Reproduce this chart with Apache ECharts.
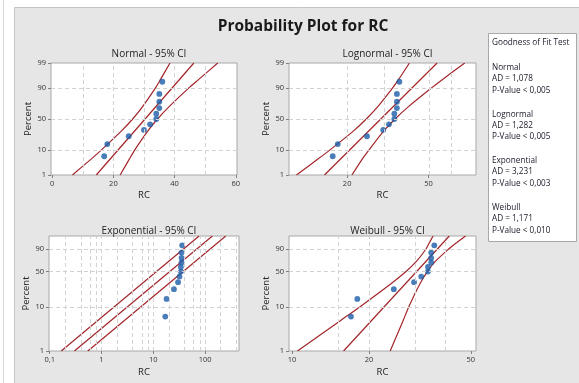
<!DOCTYPE html>
<html><head><meta charset="utf-8">
<script src="https://cdn.jsdelivr.net/npm/echarts@6/dist/echarts.min.js"></script>
<style>html,body{margin:0;padding:0;background:#fff}#c{width:579px;height:383px}</style>
</head><body><div id="c"></div><script>
// ---------- data ----------
const rcValues  = [17, 18, 25, 30, 32, 34, 34, 35, 35, 35, 36];
const rcPercent = [6.1, 14.9, 23.7, 32.5, 41.2, 50, 58.8, 67.5, 76.3, 85.1, 93.9];

const fitPct  = [1, 99];
const bandPct = [1, 5, 10, 30, 50, 70, 90, 95, 99];

const normalFit   = [14.4, 46.3];
const normalLower = [6.6, 12.9, 16.1, 22.4, 26.3, 29.6, 33.7, 35.4, 38.5];
const normalUpper = [22.2, 25.3, 27.0, 31.1, 34.4, 38.3, 44.6, 47.9, 54.1];

const lognFit   = [15.5, 55.0];
const lognLower = [11.3, 14.5, 16.5, 21.3, 24.8, 28.3, 33.3, 35.7, 40.3];
const lognUpper = [21.1, 23.8, 25.6, 30.0, 34.3, 40.0, 51.5, 58.5, 75.1];

const expFit   = [0.30, 138];
const expLower = [0.167, 76.4];
const expUpper = [0.545, 250];

const weibFit   = [15.9, 41.2];
const weibLower = [10.5, 15.5, 18.4, 24.3, 27.9, 30.7, 33.4, 34.2, 35.6];
const weibUpper = [24.2, 27.2, 28.6, 31.6, 33.8, 36.4, 41.0, 43.3, 47.7];

const normalXLabels = [0, 20, 40, 60];
const normalXGrid   = [10, 20, 30, 40, 50];
const lognXLabels   = [20, 50];
const lognXGrid     = [20, 30, 50, 65];
const expXLabels    = [0.1, 1, 10, 100];
const expXGrid      = [0.2, 0.4, 0.6, 0.8, 1, 2, 4, 6, 8, 10, 20, 40, 60, 80, 100, 200, 400];
const weibXLabels   = [10, 20, 50];
const weibXGrid     = [15, 20, 30, 40];

const normYLabels = [1, 10, 50, 90, 99];
const weibYLabels = [1, 10, 50, 90];
const yGridPct    = [10, 50, 90];

const gofDist = ['Normal', 'Lognormal', 'Exponential', 'Weibull'];
const gofAD   = ['1,078', '1,282', '3,231', '1,171'];
const gofP    = ['< 0,005', '< 0,005', '< 0,003', '< 0,010'];

// ---------- scale transforms ----------
function normInv(p) {
  const a = [-3.969683028665376e+01, 2.209460984245205e+02, -2.759285104469687e+02, 1.383577518672690e+02, -3.066479806614716e+01, 2.506628277459239e+00];
  const b = [-5.447609879822406e+01, 1.615858368580409e+02, -1.556989798598866e+02, 6.680131188771972e+01, -1.328068155288572e+01];
  const c = [-7.784894002430293e-03, -3.223964580411365e-01, -2.400758277161838e+00, -2.549732539343734e+00, 4.374664141464968e+00, 2.938163982698783e+00];
  const d = [7.784695709041462e-03, 3.224671290700398e-01, 2.445134137142996e+00, 3.754408661907416e+00];
  const pl = 0.02425, ph = 1 - pl;
  let q, r;
  if (p < pl) { q = Math.sqrt(-2 * Math.log(p)); return (((((c[0]*q+c[1])*q+c[2])*q+c[3])*q+c[4])*q+c[5]) / ((((d[0]*q+d[1])*q+d[2])*q+d[3])*q+1); }
  if (p <= ph) { q = p - 0.5; r = q*q; return (((((a[0]*r+a[1])*r+a[2])*r+a[3])*r+a[4])*r+a[5])*q / (((((b[0]*r+b[1])*r+b[2])*r+b[3])*r+b[4])*r+1); }
  q = Math.sqrt(-2 * Math.log(1 - p)); return -(((((c[0]*q+c[1])*q+c[2])*q+c[3])*q+c[4])*q+c[5]) / ((((d[0]*q+d[1])*q+d[2])*q+d[3])*q+1);
}
const tx = (kind, v) => kind === 'log' ? Math.log10(v) : v;
const ty = (kind, p) => kind === 'norm' ? normInv(p / 100) : Math.log(-Math.log(1 - p / 100));

const FONT = "'Open Sans', 'Noto Sans', sans-serif";
const LINE = '#a3262b';
const DOT = '#1c5ca8';
const GRIDC = '#d2d2d2';
const TXT = '#222';

const panels = [
  { name: 'Normal - 95% CI', box: {left: 51, top: 63, width: 186, height: 112}, xs: 'lin', ys: 'norm',
    xMin: -0.4, xMax: 60.4, xLabels: normalXLabels, xGrid: normalXGrid, yLabels: normYLabels,
    fit: normalFit, fitP: fitPct, lo: normalLower, hi: normalUpper, bandP: bandPct, titleTop: 43, gapX: 15, gapY: 15 },
  { name: 'Lognormal - 95% CI', box: {left: 289, top: 63, width: 187, height: 112}, xs: 'log', ys: 'norm',
    xMin: 10.4, xMax: 85.2, xLabels: lognXLabels, xGrid: lognXGrid, yLabels: normYLabels,
    fit: lognFit, fitP: fitPct, lo: lognLower, hi: lognUpper, bandP: bandPct, titleTop: 43, gapX: 15, gapY: 18 },
  { name: 'Exponential - 95% CI', box: {left: 49, top: 236, width: 190, height: 115}, xs: 'log', ys: 'weib',
    xMin: 0.097, xMax: 450, xLabels: expXLabels, xGrid: expXGrid, yLabels: weibYLabels,
    fit: expFit, fitP: fitPct, lo: expLower, hi: expUpper, bandP: fitPct, titleTop: 220, gapX: 16, gapY: 14 },
  { name: 'Weibull - 95% CI', box: {left: 289, top: 236, width: 187, height: 115}, xs: 'log', ys: 'weib',
    xMin: 9.73, xMax: 52.4, xLabels: weibXLabels, xGrid: weibXGrid, yLabels: weibYLabels,
    fit: weibFit, fitP: fitPct, lo: weibLower, hi: weibUpper, bandP: bandPct, titleTop: 220, gapX: 16, gapY: 18 }
];

function labelFor(list, f, v) {
  const i = list.findIndex(l => Math.abs(f(l) - v) < 1e-7);
  return i < 0 ? '' : String(list[i]).replace('.', ',');
}

const grids = [], xAxes = [], yAxes = [], series = [];
const titles = [{ text: 'Probability Plot for RC', left: 298, top: 13, textAlign: 'center',
  textStyle: { fontFamily: FONT, fontSize: 15.5, fontWeight: 'bold', color: '#1a1a1a', lineHeight: 18 } }];

panels.forEach((P, i) => {
  const X = v => tx(P.xs, v), Y = p => ty(P.ys, p);
  grids.push({ left: P.box.left, top: P.box.top, width: P.box.width, height: P.box.height, show: true,
    backgroundColor: '#ffffff', borderColor: '#a8a8a8', borderWidth: 1 });
  titles.push({ text: P.name, left: P.box.left + P.box.width / 2, top: P.titleTop, textAlign: 'center',
    textStyle: { fontFamily: FONT, fontSize: 10, fontWeight: 'normal', color: TXT, lineHeight: 12 } });
  const xl = P.xLabels.map(X), yl = P.yLabels.map(Y);
  xAxes.push({ gridIndex: i, type: 'value', min: X(P.xMin), max: X(P.xMax),
    name: 'RC', nameLocation: 'middle', nameGap: P.gapX,
    nameTextStyle: { fontFamily: FONT, fontSize: 9.5, color: TXT },
    axisLine: { show: false, onZero: false }, splitLine: { show: false },
    axisTick: { show: true, customValues: xl, length: 3, lineStyle: { color: '#808080' } },
    axisLabel: { customValues: xl, margin: 5, fontSize: 7.5, color: '#333', fontFamily: FONT,
      showMinLabel: true, showMaxLabel: true, formatter: v => labelFor(P.xLabels, X, v) } });
  yAxes.push({ gridIndex: i, type: 'value', min: Y(1), max: Y(99),
    name: 'Percent', nameLocation: 'middle', nameGap: P.gapY,
    nameTextStyle: { fontFamily: FONT, fontSize: 9.5, color: TXT },
    axisLine: { show: false, onZero: false }, splitLine: { show: false },
    axisTick: { show: true, customValues: yl, length: 3, lineStyle: { color: '#808080' } },
    axisLabel: { customValues: yl, margin: 5, fontSize: 7.5, color: '#333', fontFamily: FONT,
      showMinLabel: true, showMaxLabel: true, formatter: v => labelFor(P.yLabels, Y, v) } });
  // dashed reference grid
  series.push({ type: 'line', xAxisIndex: i, yAxisIndex: i, data: [], z: 1, silent: true,
    markLine: { silent: true, symbol: ['none', 'none'], label: { show: false }, animation: false,
      lineStyle: { type: [4, 3], color: GRIDC, width: 1 },
      emphasis: { disabled: true },
      data: P.xGrid.map(v => ({ xAxis: X(v) })).concat(yGridPct.map(p => ({ yAxis: Y(p) }))) } });
  const mk = (xsArr, ps) => xsArr.map((v, k) => [X(v), Y(ps[k])]);
  [[P.lo, P.bandP], [P.fit, P.fitP], [P.hi, P.bandP]].forEach(([arr, ps]) => {
    series.push({ type: 'line', xAxisIndex: i, yAxisIndex: i, data: mk(arr, ps), showSymbol: false, smooth: 0.25,
      silent: true, z: 3, lineStyle: { color: LINE, width: 1.2 } });
  });
  series.push({ type: 'scatter', xAxisIndex: i, yAxisIndex: i, data: mk(rcValues, rcPercent), symbolSize: 5.8,
    z: 4, silent: true, itemStyle: { color: DOT } });
});

// background frame and goodness-of-fit box
const graphics = [
  { type: 'rect', shape: { x: 0, y: 0, width: 14.5, height: 383 }, style: { fill: '#ffffff' }, silent: true },
  { type: 'rect', shape: { x: 0, y: 0, width: 579, height: 7.5 }, style: { fill: '#ffffff' }, silent: true },
  { type: 'line', shape: { x1: 3.5, y1: 0, x2: 3.5, y2: 383 }, style: { stroke: '#d6d6d6', lineWidth: 1 }, silent: true },
  { type: 'line', shape: { x1: 14.5, y1: 7.5, x2: 14.5, y2: 383 }, style: { stroke: '#c4c4c4', lineWidth: 1 }, silent: true },
  { type: 'line', shape: { x1: 14.5, y1: 7.5, x2: 579, y2: 7.5 }, style: { stroke: '#c4c4c4', lineWidth: 1 }, silent: true },
  { type: 'rect', shape: { x: 488.5, y: 33.5, width: 88, height: 208 }, style: { fill: '#ffffff', stroke: '#a8a8a8', lineWidth: 1 }, silent: true },
  { type: 'text', x: 492, y: 42.7, style: { text: 'Goodness of Fit Test', font: "8.2px " + FONT, fill: '#1a1a2a', verticalAlign: 'middle' }, silent: true }
];
gofDist.forEach((d, g) => {
  const y0 = 67.7 + g * 46.6;
  graphics.push({ type: 'text', x: 492, y: y0, style: { text: d, font: "8.2px " + FONT, fill: '#1a1a2a', verticalAlign: 'middle' }, silent: true });
  graphics.push({ type: 'text', x: 492, y: y0 + 11.2, style: { text: 'AD = ' + gofAD[g], font: "8.2px " + FONT, fill: '#1a1a2a', verticalAlign: 'middle' }, silent: true });
  graphics.push({ type: 'text', x: 492, y: y0 + 22.8, style: { text: 'P-Value ' + gofP[g], font: "8.2px " + FONT, fill: '#1a1a2a', verticalAlign: 'middle' }, silent: true });
});

const chart = echarts.init(document.getElementById('c'), null, { renderer: 'canvas' });
chart.setOption({
  animation: false,
  backgroundColor: '#e6e6e6',
  textStyle: { fontFamily: FONT },
  title: titles,
  grid: grids,
  xAxis: xAxes,
  yAxis: yAxes,
  series: series,
  graphic: graphics
});
</script></body></html>
